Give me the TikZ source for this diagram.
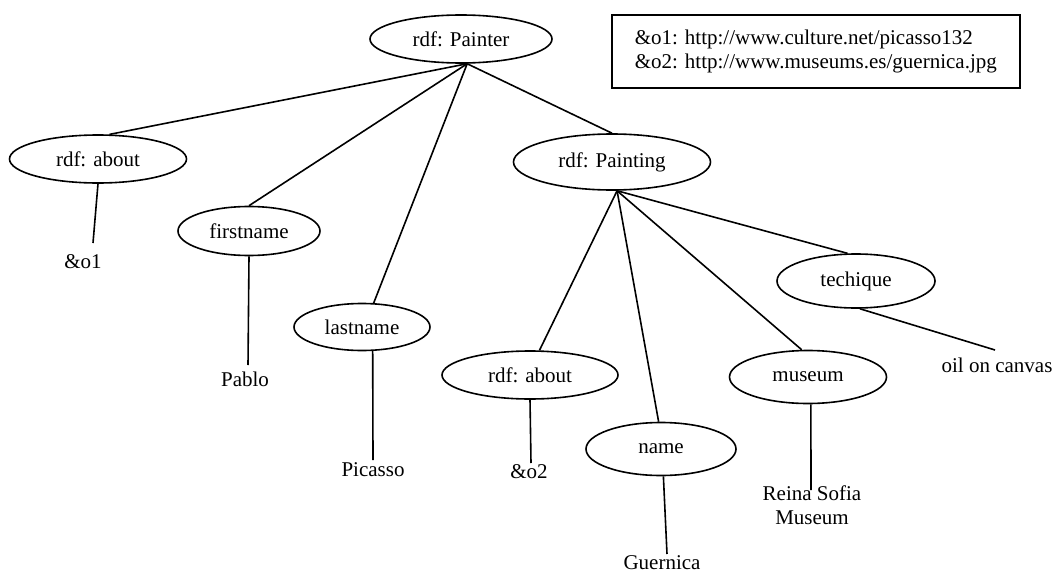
\documentclass[tikz,border=0pt]{standalone}
\usepackage{fontspec}
\setmainfont{Liberation Serif}
\usetikzlibrary{shapes.geometric}
\begin{document}
\begin{tikzpicture}[x=1pt,y=-1pt,
  every node/.style={font=\fontsize{21}{24}\selectfont},
  prop/.style={draw, ellipse, line width=1.6pt, inner sep=0pt},
  leaf/.style={inner sep=0pt},
  edge/.style={line width=1.6pt},
  legend/.style={draw, rectangle, line width=1.6pt, align=left, inner sep=0pt,
                 minimum width=408, minimum height=73, anchor=north west}]
\useasboundingbox (0,0) rectangle (1056,575);

% resources and properties
\node[prop, minimum width=182, minimum height=48] (painter)  at (461,39)  {rdf: Painter};
\node[prop, minimum width=177, minimum height=48] (about1)   at (98,159)  {rdf: about};
\node[prop, minimum width=142, minimum height=49] (first)    at (249,231) {firstname};
\node[prop, minimum width=136, minimum height=47] (last)     at (362,327) {lastname};
\node[prop, minimum width=197, minimum height=56] (painting) at (612,162) {rdf: Painting};
\node[prop, minimum width=176, minimum height=48] (about2)   at (530,375) {rdf: about};
\node[prop, minimum width=150, minimum height=53] (name)     at (661,449) {name};
\node[prop, minimum width=157, minimum height=53] (museum)   at (808,377) {museum};
\node[prop, minimum width=158, minimum height=54] (tech)     at (856,281) {techique};

% literal values
\node[leaf] (o1)       at (83,262)  {\&o1};
\node[leaf] (pablo)    at (245,379) {Pablo};
\node[leaf] (picasso)  at (373,470) {Picasso};
\node[leaf] (o2)       at (529,472) {\&o2};
\node[leaf] (guernica) at (662,563) {Guernica};
\node[leaf, align=center] (reina) at (812,505) {Reina Sofia\\Museum};
\node[leaf] (oil)      at (997,365) {oil on canvas};

% ends of the value connectors
\coordinate (o1top)       at (93,243);
\coordinate (pablotop)    at (248,365);
\coordinate (picassotop)  at (373,460);
\coordinate (o2top)       at (531,463);
\coordinate (guernicatop) at (667,554);
\coordinate (reinatop)    at (811,490);
\coordinate (oiltop)      at (995,350);

% legend of the resource identifiers
\node[legend] (ids) at (611,14)
  {\&o1: http://www.culture.net/picasso132\\\&o2: http://www.museums.es/guernica.jpg};

% structure of the painter description
\draw[edge] (painter.-76) -- (about1.65);
\draw[edge] (painter.-76) -- (first.north);
\draw[edge] (painter.-76) -- (last.64);
\draw[edge] (painter.-76) -- (painting.north);
\draw[edge] (painting.-80) -- (about2.69);
\draw[edge] (painting.-80) -- (name.95);
\draw[edge] (painting.-80) -- (museum.103);
\draw[edge] (painting.-80) -- (tech.107);

% property values
\draw[edge] (about1.south) -- (o1top);
\draw[edge] (first.south)  -- (pablotop);
\draw[edge] (last.-66)     -- (picassotop);
\draw[edge] (about2.south) -- (o2top);
\draw[edge] (name.-85)     -- (guernicatop);
\draw[edge] (museum.-84)   -- (reinatop);
\draw[edge] (tech.-82)     -- (oiltop);
\end{tikzpicture}
\end{document}
